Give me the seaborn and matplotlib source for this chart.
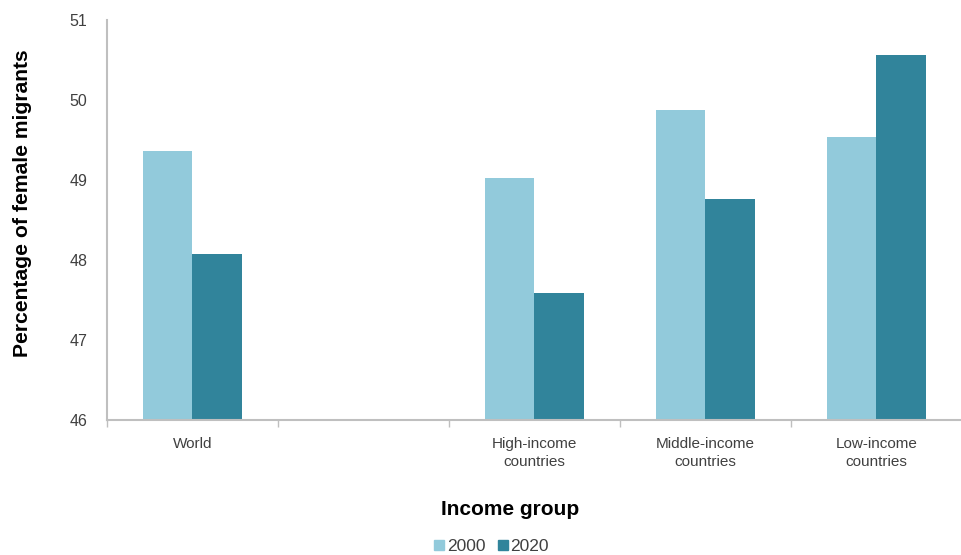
import matplotlib
matplotlib.use("Agg")
import matplotlib.pyplot as plt
import seaborn as sns
import pandas as pd
import numpy as np
from matplotlib.lines import Line2D

categories = ["World", " ", "High-income\ncountries", "Middle-income\ncountries", "Low-income\ncountries"]
data_categories = ["World", "High-income\ncountries", "Middle-income\ncountries", "Low-income\ncountries"]
values_2000 = [49.36, 49.03, 49.88, 49.54]
values_2020 = [48.08, 47.59, 48.76, 50.56]
years = ["2000", "2020"]
colors = ["#92CADB", "#31849B"]

df = pd.DataFrame({
    "group": data_categories * 2,
    "value": values_2000 + values_2020,
    "year": [years[0]] * 4 + [years[1]] * 4,
})

sns.set_theme(style="white")
plt.rcParams["font.family"] = ["Liberation Sans", "DejaVu Sans"]

fig = plt.figure(figsize=(9.62, 5.55), dpi=100)
ax = fig.add_axes([0.111, 0.243, 0.889, 0.721])

sns.barplot(data=df, x="group", y="value", hue="year", order=categories,
            hue_order=years, palette=colors, width=0.58, ax=ax,
            saturation=1, legend=False, errorbar=None, linewidth=0)

ax.set_ylim(46, 51)
ax.set_xlim(-0.5, len(categories) - 0.5)
ax.set_yticks([46, 47, 48, 49, 50, 51])
ax.tick_params(axis="y", length=0, labelsize=11.5, labelcolor="#404040", pad=14)
ax.tick_params(axis="x", which="major", length=0, labelsize=11, labelcolor="#404040", pad=12)
ax.set_xticks(np.arange(-0.5, len(categories)), minor=True)
ax.tick_params(axis="x", which="minor", bottom=True, length=5, color="#bfbfbf", width=1, direction="out")
for lbl in ax.get_xticklabels():
    lbl.set_linespacing(1.35)

for s in ["top", "right"]:
    ax.spines[s].set_visible(False)
for s in ["left", "bottom"]:
    ax.spines[s].set_color("#bfbfbf")
    ax.spines[s].set_linewidth(1.5)

ax.set_ylabel("Percentage of female migrants", fontsize=15.2, fontweight="bold", color="black")
ax.yaxis.set_label_coords(-0.087, 0.543)
ax.set_xlabel("Income group", fontsize=15, fontweight="bold", color="black")
ax.xaxis.set_label_coords(0.472, -0.2)

handles = [Line2D([0], [0], marker="s", linestyle="", markersize=6.5,
                  markerfacecolor=c, markeredgecolor=c) for c in colors]
fig.legend(handles, years, loc="center", bbox_to_anchor=(0.51, 0.016), ncol=2,
           frameon=False, fontsize=12.5, handletextpad=0.05, columnspacing=0.6,
           handlelength=0.8, labelcolor="#404040")

fig.savefig("out.png", dpi=100)
